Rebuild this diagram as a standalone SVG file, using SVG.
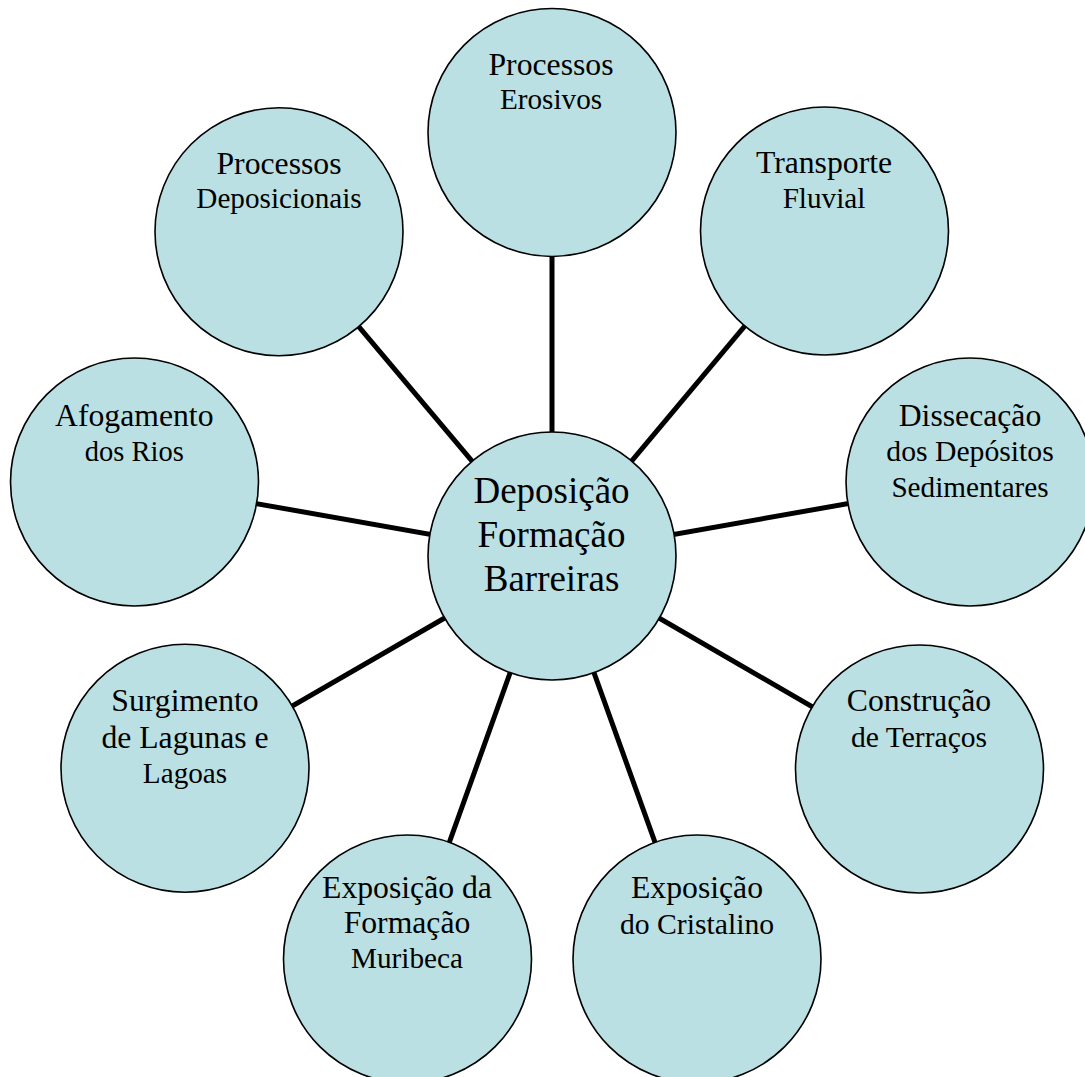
<svg xmlns="http://www.w3.org/2000/svg" width="1085" height="1077" viewBox="0 0 1085 1077">
<style>
  .bg{fill:#ffffff}
  .node{fill:#bbe0e3;stroke:#000000;stroke-width:1.6}
  .conn{stroke:#000000;stroke-width:5;fill:none}
  text{font-family:"Liberation Serif","Times New Roman",serif;fill:#000000;text-anchor:middle}
  .a{font-size:31.7px}
  .b{font-size:29.2px}
  .c{font-size:37px}
</style>
<rect class="bg" x="0" y="0" width="1085" height="1077"/>
<g id="connectors">
  <line class="conn" x1="552" y1="556" x2="552" y2="132"/>
  <line class="conn" x1="552" y1="556" x2="824.5" y2="231"/>
  <line class="conn" x1="552" y1="556" x2="279" y2="232"/>
  <line class="conn" x1="552" y1="556" x2="970" y2="482"/>
  <line class="conn" x1="552" y1="556" x2="134.5" y2="482"/>
  <line class="conn" x1="552" y1="556" x2="919.5" y2="769"/>
  <line class="conn" x1="552" y1="556" x2="185" y2="768"/>
  <line class="conn" x1="552" y1="556" x2="697" y2="959"/>
  <line class="conn" x1="552" y1="556" x2="407.5" y2="959"/>
</g>
<g id="n-erosivos">
  <circle class="node" cx="552" cy="132.5" r="124"/>
  <text class="a" x="551" y="75">Processos</text>
  <text class="b" x="551" y="109">Erosivos</text>
</g>
<g id="n-transporte">
  <circle class="node" cx="824.5" cy="231" r="124"/>
  <text class="a" x="824" y="173.3">Transporte</text>
  <text class="b" x="824" y="208.3">Fluvial</text>
</g>
<g id="n-deposicionais">
  <circle class="node" cx="279" cy="231.7" r="124"/>
  <text class="a" x="279" y="174">Processos</text>
  <text class="b" x="279" y="208">Deposicionais</text>
</g>
<g id="n-dissecacao">
  <circle class="node" cx="970" cy="482" r="124"/>
  <text class="a" x="970" y="426">Dissecação</text>
  <text class="b" x="970" y="461" style="font-size:29.7px">dos Depósitos</text>
  <text class="b" x="970" y="496.7">Sedimentares</text>
</g>
<g id="n-afogamento">
  <circle class="node" cx="134.5" cy="482" r="124"/>
  <text class="a" x="134.3" y="426">Afogamento</text>
  <text class="b" x="134.3" y="461" style="font-size:28.5px">dos Rios</text>
</g>
<g id="n-surgimento">
  <circle class="node" cx="185" cy="768.3" r="124"/>
  <text class="a" x="185" y="711">Surgimento</text>
  <text class="a" x="185" y="747.7">de Lagunas e</text>
  <text class="b" x="185" y="782.7">Lagoas</text>
</g>
<g id="n-construcao">
  <circle class="node" cx="919.5" cy="769" r="124"/>
  <text class="a" x="919" y="711">Construção</text>
  <text class="b" x="919" y="747.3" style="font-size:29.6px">de Terraços</text>
</g>
<g id="n-muribeca">
  <circle class="node" cx="407.5" cy="959" r="124"/>
  <text class="a" x="407" y="898.3">Exposição da</text>
  <text class="a" x="407" y="933.3">Formação</text>
  <text class="b" x="407" y="968.3">Muribeca</text>
</g>
<g id="n-cristalino">
  <circle class="node" cx="697" cy="959" r="124"/>
  <text class="a" x="697" y="898.3">Exposição</text>
  <text class="b" x="697" y="934" style="font-size:29.7px">do Cristalino</text>
</g>
<g id="n-centro">
  <circle class="node" cx="552" cy="556" r="124"/>
  <text class="c" x="551.5" y="502.7">Deposição</text>
  <text class="c" x="551.5" y="546.7">Formação</text>
  <text class="c" x="551.5" y="590.7">Barreiras</text>
</g>
</svg>
